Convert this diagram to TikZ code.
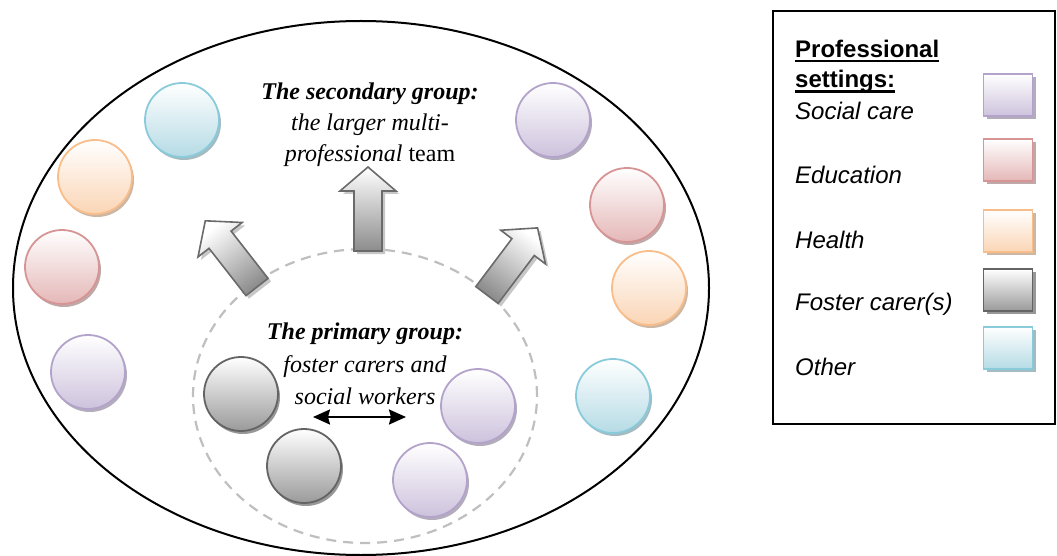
\documentclass[tikz,border=0pt]{standalone}
\usepackage{fontspec}
\setmainfont{Liberation Serif}
\newfontfamily\legendfont{Liberation Sans}
\usetikzlibrary{arrows.meta, positioning, shapes.geometric, shadows}
\definecolor{socialLine}{HTML}{B3A3CB}
\definecolor{socialFill}{HTML}{CDC2DC}
\definecolor{eduLine}{HTML}{D69494}
\definecolor{eduFill}{HTML}{E5B7B7}
\definecolor{healthLine}{HTML}{F9BD8A}
\definecolor{healthFill}{HTML}{FAD5B5}
\definecolor{carerLine}{HTML}{646464}
\definecolor{carerFill}{HTML}{9A9A9A}
\definecolor{otherLine}{HTML}{8ACBDB}
\definecolor{otherFill}{HTML}{B5DBE5}
\definecolor{arrowLine}{HTML}{6A6A6A}
\definecolor{arrowFill}{HTML}{8C8C8C}
\tikzset{
  member/.style={circle, minimum size=74pt, inner sep=0pt, line width=1.8pt, draw=#1Line,
    top color=white, bottom color=#1Fill,
    drop shadow={shadow xshift=2pt, shadow yshift=-3pt, fill=#1Line!65!black, opacity=.55}},
  swatch/.style={rectangle, minimum width=49pt, minimum height=42pt, inner sep=0pt, line width=1.6pt, draw=#1Line,
    top color=white, bottom color=#1Fill,
    drop shadow={shadow xshift=3pt, shadow yshift=-3pt, fill=#1Line!65!black, opacity=.55}},
  team/.style={ellipse, draw, line width=2pt, minimum width=696pt, minimum height=534pt, inner sep=0pt},
  core/.style={ellipse, draw=black!25, line width=2.2pt, dash pattern=on 10pt off 7pt, minimum width=344pt, minimum height=294pt, inner sep=0pt},
  blockarrow/.style={draw=arrowLine, line width=1.6pt, line join=miter, top color=white, bottom color=arrowFill,
    drop shadow={shadow xshift=3pt, shadow yshift=-3pt, fill=black!22, opacity=1}},
  grouphead/.style={font=\fontsize{24}{31}\selectfont, align=center, inner sep=0pt},
  legendbox/.style={rectangle, draw, line width=1.5pt, minimum width=282pt, minimum height=413pt, inner sep=0pt},
  legendhead/.style={font=\legendfont\fontsize{24}{30}\selectfont\bfseries, anchor=base west, inner sep=0pt},
  legendtext/.style={font=\legendfont\fontsize{24}{30}\selectfont\itshape, anchor=base west, inner sep=0pt}
}

\begin{document}
\begin{tikzpicture}[x=1pt, y=-1pt]
\useasboundingbox (0,0) rectangle (1057,556);
% the two groups
\node[team] (secondary) at (361,288) {};
\node[core] (primary) at (365,396) {};
% members of the secondary group
\node[member=other] (other1) at (182,120) {};
\node[member=health] (health1) at (95,177) {};
\node[member=edu] (edu1) at (62,267) {};
\node[member=social] (social1) at (88,372) {};
\node[member=social] (social2) at (553,120) {};
\node[member=edu] (edu2) at (627,205) {};
\node[member=health] (health2) at (649,288) {};
\node[member=other] (other2) at (613,396) {};
% members of the primary group
\node[member=carer] (carer1) at (241,394) {};
\node[member=carer] (carer2) at (304,466) {};
\node[member=social] (social3) at (478,406) {};
\node[member=social] (social4) at (430,480) {};
% arrows out of the primary group
\begin{scope}[shift={(257,287)}, rotate=38]
\draw[blockarrow, shading angle=38] (-14,0) -- (-14,-60) -- (-28,-60) -- (0,-84) -- (28,-60) -- (14,-60) -- (14,0) -- cycle;
\end{scope}
\begin{scope}[shift={(368,251)}]
\draw[blockarrow] (-14,0) -- (-14,-60) -- (-28,-60) -- (0,-84) -- (28,-60) -- (14,-60) -- (14,0) -- cycle;
\end{scope}
\begin{scope}[shift={(487,295)}, rotate=-37]
\draw[blockarrow, shading angle=-37] (-14,0) -- (-14,-60) -- (-28,-60) -- (0,-84) -- (28,-60) -- (14,-60) -- (14,0) -- cycle;
\end{scope}
% group labels
\node[grouphead] (secondtext) at (370,125) {\textbf{\textit{The secondary group:}}\\ \textit{the larger multi-}\\ \textit{professional} team};
\node[grouphead, font=\fontsize{24}{32.5}\selectfont] (primetext) at (365,364) {\textbf{\textit{The primary group:}}\\ \textit{foster carers and}\\ \textit{social workers}};
\coordinate (carerend) at (313,417);
\coordinate (socialend) at (406,417);
\draw[{Stealth[length=17pt, width=15pt, inset=2pt]}-{Stealth[length=17pt, width=15pt, inset=2pt]}, line width=2.2pt] (carerend) -- (socialend);
% legend
\node[legendbox] (legend) at (914,217.5) {};
\node[legendhead] (title1) at (795,58) {Professional};
\node[legendhead] (title2) at (795,88) {settings:};
\draw[line width=2.2pt] ([yshift=-3pt]title1.base west) -- ([yshift=-3pt]title1.base east);
\draw[line width=2.2pt] ([yshift=-3.5pt]title2.base west) -- ([yshift=-3.5pt]title2.base east);
\node[legendtext] (lsocial) at (795,120) {Social care};
\node[legendtext] (ledu) at (795,184) {Education};
\node[legendtext] (lhealth) at (795,248) {Health};
\node[legendtext] (lcarer) at (795,310) {Foster carer(s)};
\node[legendtext] (lother) at (795,375) {Other};
\node[swatch=social] (ksocial) at (1008,95) {};
\node[swatch=edu] (kedu) at (1008,160) {};
\node[swatch=health] (khealth) at (1008,231) {};
\node[swatch=carer] (kcarer) at (1008,290) {};
\node[swatch=other] (kother) at (1008,348) {};
\end{tikzpicture}
\end{document}
